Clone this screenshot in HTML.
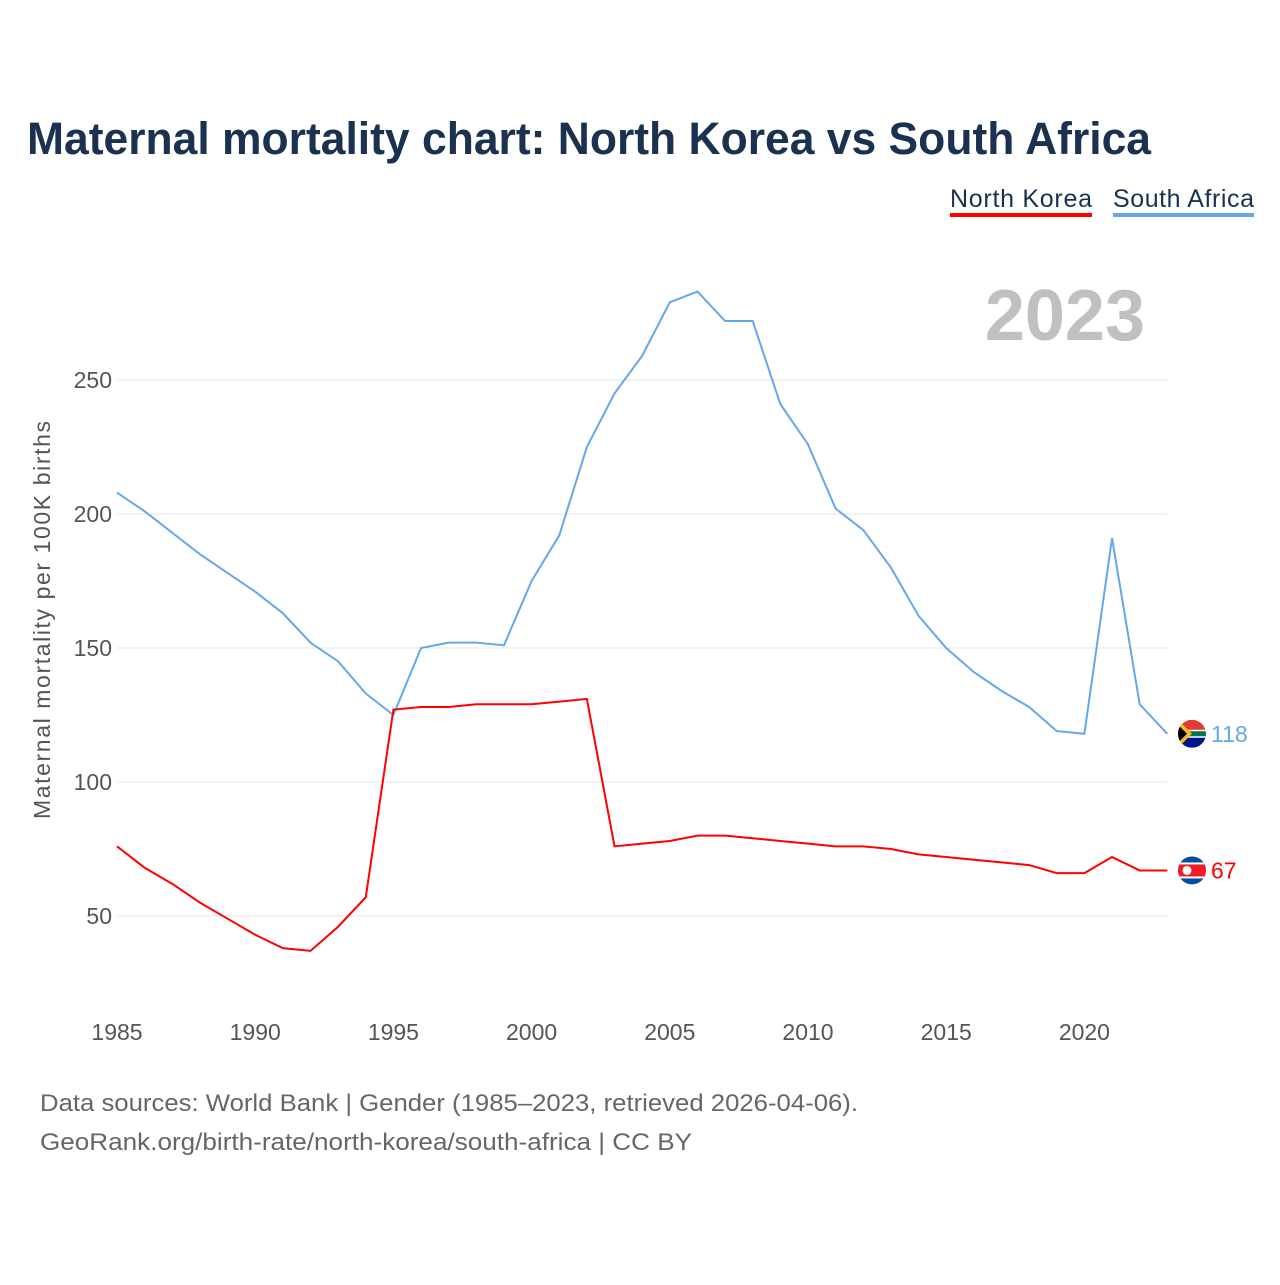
<!DOCTYPE html>
<html><head><meta charset="utf-8"><style>
body{margin:0;background:#fff;font-family:"Liberation Sans",sans-serif}
#wrap{position:relative;width:1280px;height:1280px}
svg text{font-family:"Liberation Sans",sans-serif}
</style></head><body>
<div id="wrap">
<svg id="chart" width="1280" height="1280">
<text x="27" y="154" font-size="45" font-weight="bold" fill="#1b3150" textLength="1124" lengthAdjust="spacingAndGlyphs">Maternal mortality chart: North Korea vs South Africa</text>
<g>
<text x="950" y="207" font-size="25" fill="#1b3150" textLength="142">North Korea</text>
<rect x="950" y="213" width="142" height="4" fill="#ff0000"/>
<text x="1113" y="207" font-size="25" fill="#1b3150" textLength="141">South Africa</text>
<rect x="1113" y="213" width="141" height="4" fill="#64a8ea"/>
</g>
<text x="1145" y="340" font-size="72" font-weight="bold" fill="#c0c0c0" text-anchor="end">2023</text>
<text transform="translate(50,620) rotate(-90)" font-size="23" fill="#555" text-anchor="middle" textLength="398">Maternal mortality per 100K births</text>
<g id="grid"></g><g id="lines"></g>
<text x="40" y="1111" font-size="24" fill="#666" textLength="818" lengthAdjust="spacingAndGlyphs">Data sources: World Bank | Gender (1985–2023, retrieved 2026-04-06).</text>
<text x="40" y="1150" font-size="24" fill="#666" textLength="652" lengthAdjust="spacingAndGlyphs">GeoRank.org/birth-rate/north-korea/south-africa | CC BY</text>
</svg></div>
<script>
const years=[];for(let y=1985;y<=2023;y++)years.push(y);
const southAfrica=[208,201,193,185,178,171,163,152,145,133,125,150,152,152,151,175,192,225,245,259,279,283,272,272,241,226,202,194,180,162,150,141,134,128,119,118,191,129,118];
const northKorea=[76,68,62,55,49,43,38,37,46,57,127,128,128,129,129,129,130,131,76,77,78,80,80,79,78,77,76,76,75,73,72,71,70,69,66,66,72,67,67];
const yTicks=[50,100,150,200,250];
const xTicks=[1985,1990,1995,2000,2005,2010,2015,2020];
const NS="http://www.w3.org/2000/svg";
const xs=y=>117+(y-1985)*27.64;
const ys=v=>1050-v*2.68;
const grid=document.getElementById('grid'),lines=document.getElementById('lines');
function mk(t,a,p){const e=document.createElementNS(NS,t);for(const k in a)e.setAttribute(k,a[k]);p.appendChild(e);return e;}
yTicks.forEach(v=>{
 const l=mk('line',{x1:117,x2:1167,y1:ys(v),y2:ys(v),stroke:'#e6e6e6','stroke-width':1},grid);
 
 
 const t=mk('text',{x:112,y:ys(v)+8,'font-size':23,fill:'#555','text-anchor':'end'},grid);t.textContent=v;
 
 
});
xTicks.forEach(v=>{
 const t=mk('text',{x:xs(v),y:1040,'font-size':23,fill:'#555','text-anchor':'middle'},grid);t.textContent=v;
 
 
});
function series(vals,color,name,flag){
 const p=mk('polyline',{points:vals.map((v,i)=>xs(years[i])+','+ys(v)).join(' '),fill:'none',stroke:color,'stroke-width':2},lines);
 
 
 const last=vals[vals.length-1],ly=ys(last);
 const g=mk('g',{},lines);
 
 
 const cid='clip-'+name;
 const cp=mk('clipPath',{id:cid},g);mk('circle',{cx:1192,cy:ly,r:14},cp);
 const fg=mk('g',{'clip-path':'url(#'+cid+')'},g);
 if(flag==='kp'){
  mk('rect',{x:1178,y:ly-14,width:28,height:28,fill:'#024fa2'},fg);
  mk('rect',{x:1178,y:ly-8,width:28,height:16,fill:'#fff'},fg);
  mk('rect',{x:1178,y:ly-6,width:28,height:12,fill:'#ed1c27'},fg);
  mk('circle',{cx:1187,cy:ly,r:4.5,fill:'#fff'},fg);
 }else{
  mk('rect',{x:1178,y:ly-14,width:28,height:14,fill:'#e03c31'},fg);
  mk('rect',{x:1178,y:ly,width:28,height:14,fill:'#001489'},fg);
  mk('rect',{x:1178,y:ly-4,width:28,height:8,fill:'#fff'},fg);
  mk('rect',{x:1178,y:ly-2.5,width:28,height:5,fill:'#007749'},fg);
  mk('polygon',{points:`1178,${ly-14} 1192,${ly} 1178,${ly+14}`,fill:'#ffb81c'},fg);
  mk('polygon',{points:`1178,${ly-9} 1187,${ly} 1178,${ly+9}`,fill:'#000'},fg);
 }
 const t=mk('text',{x:1211,y:ly+8,'font-size':23,fill:color},lines);t.textContent=last;
 
 
}
series(southAfrica,'#64a8ea','south-africa','za');
series(northKorea,'#ff0000','north-korea','kp');
</script>
</body></html>
